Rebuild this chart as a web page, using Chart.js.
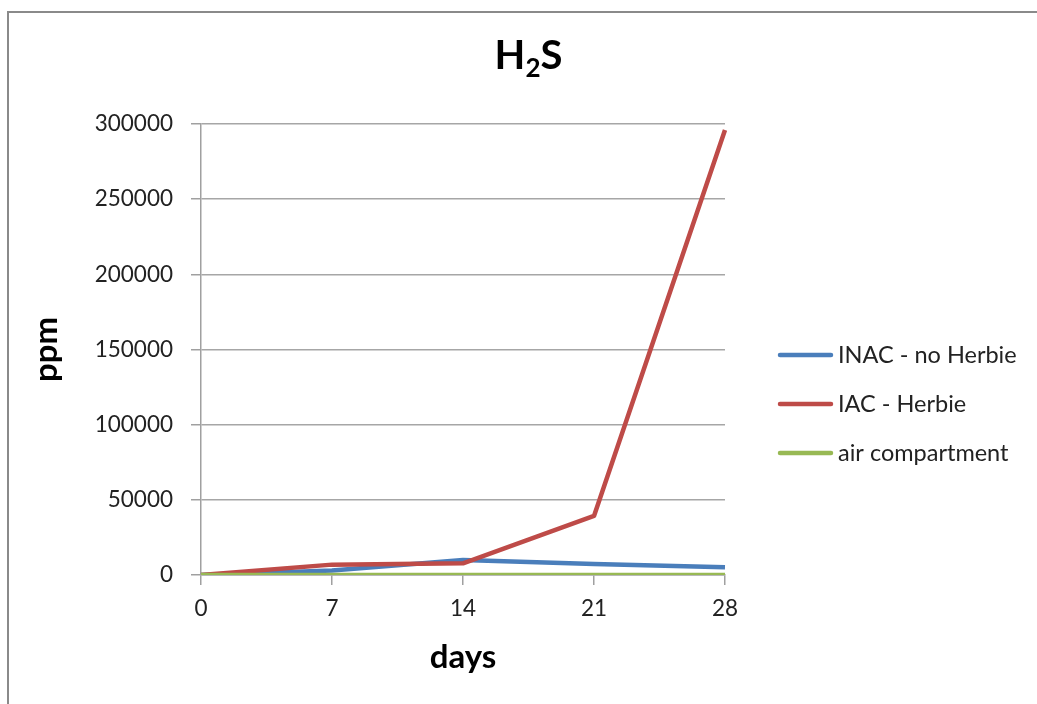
<!DOCTYPE html>
<html><head><meta charset="utf-8">
<script src="https://cdn.jsdelivr.net/npm/chart.js@4.4.1/dist/chart.umd.min.js"></script>
<style>
html,body{margin:0;padding:0;background:#fff;overflow:hidden}
#wrap{position:relative;width:1037px;height:704px}
#frame{position:absolute;left:7px;top:11px;width:1100px;height:800px;border:2px solid #8a8a8a;box-sizing:border-box;pointer-events:none}
canvas{position:absolute;left:0;top:0}
</style></head><body>
<div id="wrap"><canvas id="c" width="1037" height="704"></canvas><div id="frame"></div></div>
<script>
const days = ['0', '7', '14', '21', '28'];
const inacNoHerbie = [0, 3000, 10000, 7300, 5100];
const iacHerbie = [0, 6900, 7800, 39300, 296000];
const airCompartment = [0, 0, 0, 0, 0];
const seriesNames = ['INAC - no Herbie', 'IAC - Herbie', 'air compartment'];
const seriesColors = ['#4A7EBB', '#BE4B48', '#98B954'];
const yMin = 0, yMax = 300000, yStep = 50000;
const titleMain = 'H', titleSub = '2', titleEnd = 'S';
const xTitle = 'days', yTitle = 'ppm';

const FONT = 'Lato, "Open Sans", sans-serif';

const titlePlugin = {
  id: 'subTitle',
  afterDraw(chart) {
    const ctx = chart.ctx;
    ctx.save();
    ctx.fillStyle = '#000';
    ctx.textBaseline = 'alphabetic';
    ctx.font = 'bold 40px ' + FONT;
    const wH = ctx.measureText(titleMain).width;
    const wS = ctx.measureText(titleEnd).width;
    ctx.font = 'bold 26px ' + FONT;
    const w2 = ctx.measureText(titleSub).width;
    const total = wH + w2 + wS;
    let x = 528.5 - total / 2;
    const base = 69;
    ctx.font = 'bold 40px ' + FONT;
    ctx.textAlign = 'left';
    ctx.fillText(titleMain, x, base); x += wH;
    ctx.font = 'bold 26px ' + FONT;
    ctx.fillText(titleSub, x, base + 8); x += w2;
    ctx.font = 'bold 40px ' + FONT;
    ctx.fillText(titleEnd, x, base);
    ctx.restore();
  }
};

const legendPlugin = {
  id: 'sideLegend',
  afterDraw(chart) {
    const ctx = chart.ctx;
    ctx.save();
    chart.data.datasets.forEach((ds, i) => {
      const y = 355 + 49 * i;
      ctx.strokeStyle = ds.borderColor;
      ctx.lineWidth = 4.5;
      ctx.lineCap = 'round';
      ctx.beginPath();
      ctx.moveTo(780, y);
      ctx.lineTo(831, y);
      ctx.stroke();
      ctx.fillStyle = '#222';
      ctx.font = '23.5px ' + FONT;
      ctx.textBaseline = 'middle';
      ctx.textAlign = 'left';
      ctx.fillText(ds.label, 838, y);
    });
    ctx.restore();
  }
};

new Chart(document.getElementById('c'), {
  type: 'line',
  data: {
    labels: days,
    datasets: [
      { label: seriesNames[0], data: inacNoHerbie, borderColor: seriesColors[0], order: 2 },
      { label: seriesNames[1], data: iacHerbie, borderColor: seriesColors[1], order: 1 },
      { label: seriesNames[2], data: airCompartment, borderColor: seriesColors[2], order: 0 }
    ].map(d => Object.assign(d, { borderWidth: 4.5, pointRadius: 0, tension: 0, fill: false, backgroundColor: d.borderColor, borderJoinStyle: 'round' }))
  },
  options: {
    responsive: false,
    animation: false,
    devicePixelRatio: 1,
    layout: { padding: { top: 124, right: 312, left: 0, bottom: 0 } },
    plugins: { legend: { display: false }, title: { display: false }, tooltip: { enabled: false } },
    scales: {
      x: {
        grid: { color: 'transparent', tickColor: '#a0a0a0', tickLength: 10, lineWidth: 1.5 },
        border: { color: '#a0a0a0', width: 1.5 },
        ticks: { color: '#222', font: { family: FONT, size: 22.5 }, padding: 10, maxRotation: 0 },
        title: { display: true, text: xTitle, color: '#000', font: { family: FONT, size: 33, weight: 'bold' }, padding: { top: 0, bottom: 27 } },
        afterFit: s => { s.height = 129; }
      },
      y: {
        min: yMin, max: yMax,
        grid: { color: '#a6a6a6', tickColor: '#a0a0a0', tickLength: 10, lineWidth: 1.5 },
        border: { color: '#a0a0a0', width: 1.5 },
        ticks: { stepSize: yStep, color: '#222', font: { family: FONT, size: 22.5 }, padding: 18, callback: v => String(v) },
        title: { display: true, text: yTitle, color: '#000', font: { family: FONT, size: 33, weight: 'bold' }, padding: { top: 27, bottom: 0 } },
        afterFit: s => { s.width = 201; }
      }
    }
  },
  plugins: [titlePlugin, legendPlugin]
});
</script>
</body></html>
